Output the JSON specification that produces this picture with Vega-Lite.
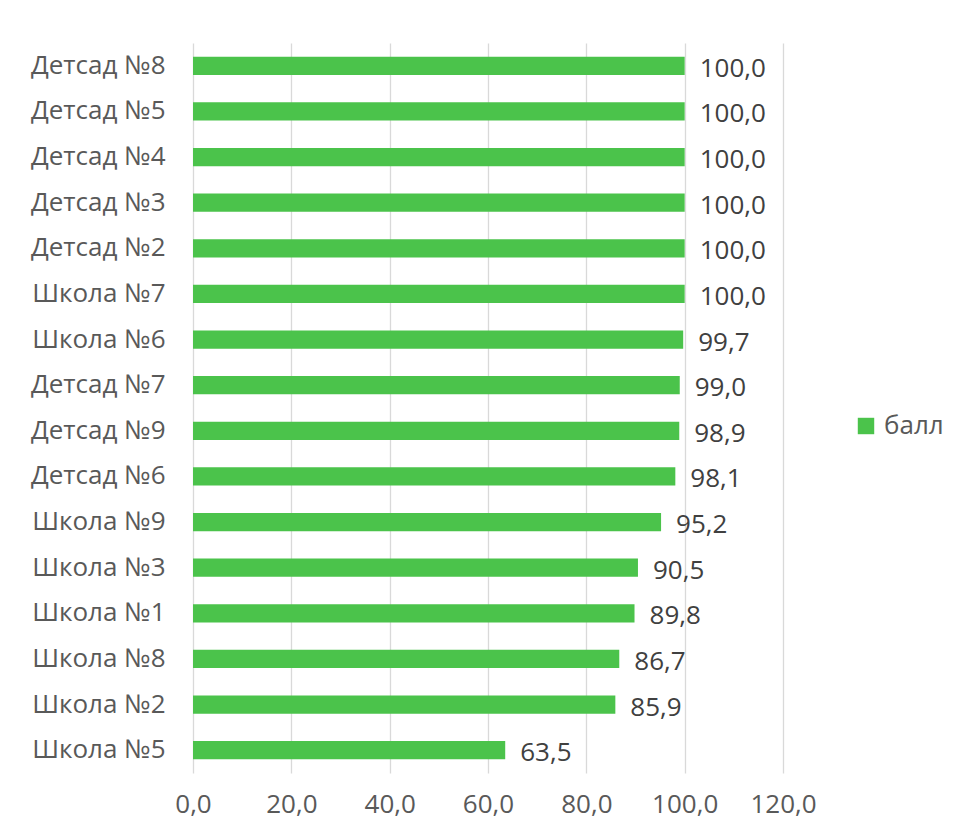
{
  "$schema": "https://vega.github.io/schema/vega-lite/v6.json",
  "width": 590,
  "height": 730,
  "autosize": {"type": "none"},
  "padding": {"left": 193, "top": 43, "right": 173, "bottom": 64},
  "background": "white",
  "config": {
    "locale": {"number": {"decimal": ",", "thousands": " ", "grouping": [3], "currency": ["", ""]}},
    "view": {"stroke": null},
    "font": "Open Sans"
  },
  "data": {
    "values": [
      {"name": "Детсад №8", "series": "балл", "value": 100.0},
      {"name": "Детсад №5", "series": "балл", "value": 100.0},
      {"name": "Детсад №4", "series": "балл", "value": 100.0},
      {"name": "Детсад №3", "series": "балл", "value": 100.0},
      {"name": "Детсад №2", "series": "балл", "value": 100.0},
      {"name": "Школа №7", "series": "балл", "value": 100.0},
      {"name": "Школа №6", "series": "балл", "value": 99.7},
      {"name": "Детсад №7", "series": "балл", "value": 99.0},
      {"name": "Детсад №9", "series": "балл", "value": 98.9},
      {"name": "Детсад №6", "series": "балл", "value": 98.1},
      {"name": "Школа №9", "series": "балл", "value": 95.2},
      {"name": "Школа №3", "series": "балл", "value": 90.5},
      {"name": "Школа №1", "series": "балл", "value": 89.8},
      {"name": "Школа №8", "series": "балл", "value": 86.7},
      {"name": "Школа №2", "series": "балл", "value": 85.9},
      {"name": "Школа №5", "series": "балл", "value": 63.5}
    ]
  },
  "encoding": {
    "y": {
      "field": "name",
      "type": "nominal",
      "sort": null,
      "scale": {"paddingInner": 0.6, "paddingOuter": 0.3},
      "axis": {
        "title": null,
        "domain": false,
        "ticks": false,
        "labelFontSize": 26,
        "labelColor": "#595959",
        "labelPadding": 28,
        "labelOverlap": false
      }
    },
    "x": {
      "field": "value",
      "type": "quantitative",
      "scale": {"domain": [0, 120], "nice": false},
      "axis": {
        "title": null,
        "values": [0, 20, 40, 60, 80, 100, 120],
        "format": ".1f",
        "domain": false,
        "ticks": false,
        "grid": true,
        "gridColor": "#D9D9D9",
        "gridWidth": 1.3,
        "labelFontSize": 26,
        "labelColor": "#595959",
        "labelPadding": 18,
        "labelOverlap": false,
        "labelFlush": false
      }
    }
  },
  "layer": [
    {
      "mark": {"type": "bar", "color": "#4BC34B"},
      "encoding": {
        "color": {
          "field": "series",
          "type": "nominal",
          "scale": {"range": ["#4BC34B"]},
          "legend": {
            "title": null,
            "orient": "none",
            "legendX": 660,
            "legendY": 370,
            "symbolType": "square",
            "symbolSize": 270,
            "symbolStrokeWidth": 0,
            "labelFontSize": 26,
            "labelColor": "#595959",
            "labelOffset": 5
          }
        }
      }
    },
    {
      "mark": {"type": "text", "align": "left", "baseline": "middle", "dx": 15, "dy": 3, "fontSize": 26, "color": "#404040"},
      "encoding": {
        "text": {"field": "value", "type": "quantitative", "format": ".1f"}
      }
    }
  ]
}
